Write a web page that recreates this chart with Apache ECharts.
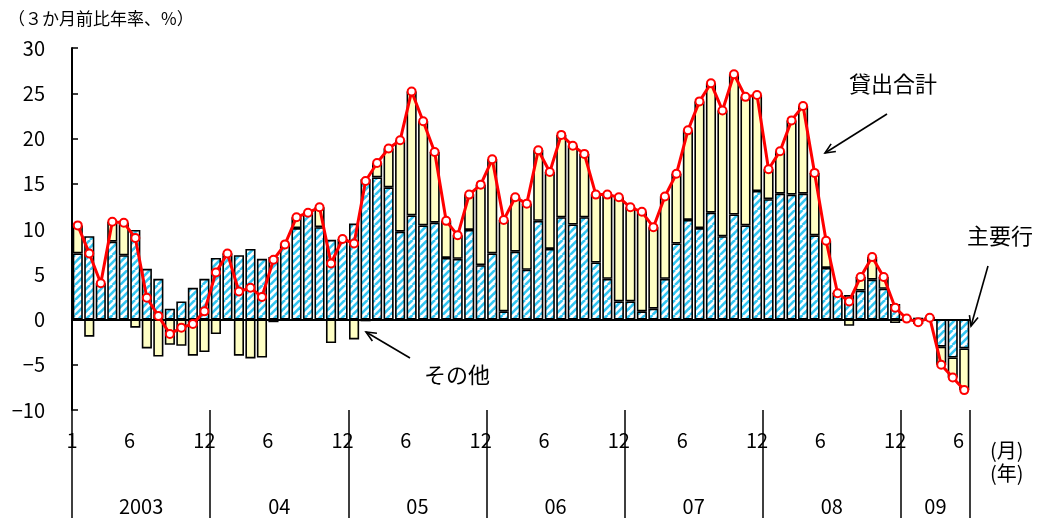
<!DOCTYPE html>
<html>
<head>
<meta charset="utf-8">
<script src="https://cdn.jsdelivr.net/npm/echarts@6/dist/echarts.min.js"></script>
<style>
html,body{margin:0;padding:0;background:#fff;}
#chart{width:1040px;height:518px;}
</style>
</head>
<body>
<div id="chart"></div>
<script>
// ---- data (3か月前比年率、%) : 2003/1 - 2009/6 ----
const startYear = 2003, startMonth = 1, monthCount = 78;
const categories = [];
for (let k = 0; k < monthCount; k++) {
  const y = startYear + Math.floor((startMonth - 1 + k) / 12);
  const m = (startMonth - 1 + k) % 12 + 1;
  categories.push(y + '/' + m);
}
// 主要行
const majorBanks = [
  7.3, 9.2, 3.8, 8.6, 7.1, 9.9, 5.6, 4.5, 1.2, 2.0, 3.5, 4.5,
  6.8, 7.1, 7.1, 7.8, 6.7, 6.9, 8.3, 10.1, 11.8, 10.2, 8.8, 8.7,
  10.6, 15.5, 15.7, 14.6, 9.7, 11.5, 10.4, 10.7, 6.8, 6.7, 9.9, 6.0,
  7.3, 0.9, 7.5, 5.5, 10.9, 7.8, 11.3, 10.5, 11.3, 6.3, 4.5, 2.0,
  2.0, 0.9, 1.2, 4.5, 8.4, 11.0, 10.1, 11.8, 9.2, 11.6, 10.4, 14.2,
  13.3, 13.9, 13.8, 13.9, 9.3, 5.7, 2.9, 2.7, 3.2, 4.4, 3.4, 1.7,
  0.1, 0.2, 0.2, -3.0, -4.2, -3.2
];
// その他
const others = [
  3.1, -1.9, 0.2, 2.2, 3.6, -0.9, -3.2, -4.1, -2.8, -2.9, -4.0, -3.6,
  -1.6, 0.2, -4.0, -4.3, -4.2, -0.3, 0.0, 1.2, 0.0, 2.2, -2.6, 0.2,
  -2.2, -0.2, 1.6, 4.3, 10.1, 13.7, 11.5, 7.8, 4.1, 2.6, 3.9, 8.9,
  10.4, 10.1, 6.0, 7.3, 7.8, 8.5, 9.1, 8.7, 7.0, 7.5, 9.3, 11.5,
  10.4, 11.0, 9.0, 9.1, 7.7, 9.9, 14.0, 14.3, 13.9, 15.5, 14.2, 10.6,
  3.3, 4.7, 8.2, 9.7, 6.9, 3.0, 0.0, -0.7, 1.5, 2.5, 1.3, -0.4,
  0.0, -0.5, 0.0, -2.0, -2.2, -4.6
];
// 貸出合計
const totalLoans = [
  10.4, 7.3, 4.0, 10.8, 10.7, 9.0, 2.4, 0.4, -1.6, -0.9, -0.5, 0.9,
  5.2, 7.3, 3.1, 3.5, 2.5, 6.6, 8.3, 11.3, 11.8, 12.4, 6.2, 8.9,
  8.4, 15.3, 17.3, 18.9, 19.8, 25.2, 21.9, 18.5, 10.9, 9.3, 13.8, 14.9,
  17.7, 11.0, 13.5, 12.8, 18.7, 16.3, 20.4, 19.2, 18.3, 13.8, 13.8, 13.5,
  12.4, 11.9, 10.2, 13.6, 16.1, 20.9, 24.1, 26.1, 23.1, 27.1, 24.6, 24.8,
  16.6, 18.6, 22.0, 23.6, 16.2, 8.7, 2.9, 2.0, 4.7, 6.9, 4.7, 1.3,
  0.1, -0.3, 0.2, -5.0, -6.4, -7.8
];
const yTicks = { min: -10, max: 30, step: 5 };
const yearLabels = ['2003', '04', '05', '06', '07', '08', '09'];
const monthTickLabels = { first: '1', mid: '6', last: '12' };

// label positions derived from category index
const monthLabelMap = {};
const yearSpan = {};
categories.forEach((c, k) => {
  const [y, m] = c.split('/').map(Number);
  if (k === 0) monthLabelMap[0] = monthTickLabels.first;
  if (m === 6) monthLabelMap[k] = monthTickLabels.mid;
  if (m === 12) monthLabelMap[k + 0.5] = monthTickLabels.last;
  if (!yearSpan[y]) yearSpan[y] = [k, k + 1]; else yearSpan[y][1] = k + 1;
});
const yearLabelMap = {};
Object.keys(yearSpan).forEach((y, j) => {
  const s = yearSpan[y];
  yearLabelMap[(s[0] + s[1]) / 2] = yearLabels[j];
});

// diagonal "/" hatch pattern for 主要行
function makeHatch() {
  const P = 7.5, S = 15;
  const cv = document.createElement('canvas');
  cv.width = S; cv.height = S;
  const ctx = cv.getContext('2d');
  ctx.fillStyle = '#ffffff';
  ctx.fillRect(0, 0, S, S);
  ctx.strokeStyle = '#33c6f2';
  ctx.lineWidth = 2.6;
  for (let k = -2; k <= 2; k++) {
    ctx.beginPath();
    ctx.moveTo(k * P, S);
    ctx.lineTo(k * P + S, 0);
    ctx.stroke();
  }
  return cv;
}

const FONT = '"Noto Sans CJK JP", "Noto Sans", sans-serif';
const chart = echarts.init(document.getElementById('chart'));

function arrow(x1, y1, x2, y2) {
  const a = Math.atan2(y2 - y1, x2 - x1), L = 11, w = 0.42;
  return [
    { type: 'line', shape: { x1, y1, x2, y2 }, style: { stroke: '#000', lineWidth: 1.6 }, z: 100 },
    { type: 'polyline', shape: { points: [
        [x2 - L * Math.cos(a - w), y2 - L * Math.sin(a - w)], [x2, y2],
        [x2 - L * Math.cos(a + w), y2 - L * Math.sin(a + w)]] },
      style: { stroke: '#000', lineWidth: 1.6, fill: null }, z: 100 }
  ];
}

const labelAxisBase = {
  type: 'value', min: 0, max: monthCount, position: 'bottom', interval: 0.5,
  axisLine: { show: false, onZero: false }, axisTick: { show: false }, splitLine: { show: false },
  gridIndex: 0
};

chart.setOption({
  animation: false,
  backgroundColor: '#fff',
  textStyle: { fontFamily: FONT },
  grid: { left: 72, right: 70, top: 48, bottom: 108, containLabel: false },
  xAxis: [
    {
      type: 'category', data: categories, position: 'bottom',
      axisLine: { show: false, onZero: false },
      axisTick: { show: true, inside: false, length: 108, interval: (i) => i % 12 === 0,
        lineStyle: { color: '#000', width: 1.5 } },
      axisLabel: { show: false },
      splitLine: { show: false }
    },
    Object.assign({}, labelAxisBase, {
      axisLabel: { show: true, margin: 20, color: '#000', fontSize: 20, fontFamily: FONT,
        showMinLabel: true, showMaxLabel: true,
        formatter: (v) => monthLabelMap[Math.round(v * 2) / 2] || '' }
    }),
    Object.assign({}, labelAxisBase, {
      axisLabel: { show: true, margin: 86, color: '#000', fontSize: 20, fontFamily: FONT,
        formatter: (v) => yearLabelMap[Math.round(v * 2) / 2] || '' }
    })
  ],
  yAxis: {
    type: 'value', min: yTicks.min, max: yTicks.max, interval: yTicks.step,
    axisLine: { show: true, onZero: false, lineStyle: { color: '#000', width: 2 } },
    axisTick: { show: true, inside: true, length: 6, lineStyle: { color: '#000', width: 1.5 } },
    splitLine: { show: false },
    axisLabel: { color: '#000', fontSize: 20, margin: 27, fontFamily: FONT,
      formatter: (v) => String(v).replace('-', '−') }
  },
  series: [
    {
      name: '主要行', type: 'bar', stack: 'loans', data: majorBanks,
      barCategoryGap: '12%', z: 2,
      itemStyle: {
        color: { image: makeHatch(), repeat: 'repeat' },
        borderColor: '#000', borderWidth: 1.6
      }
    },
    {
      name: 'その他', type: 'bar', stack: 'loans', data: others,
      barCategoryGap: '12%', z: 2,
      itemStyle: { color: '#ffffc4', borderColor: '#000', borderWidth: 1.6 },
      markLine: {
        silent: true, symbol: 'none', label: { show: false },
        lineStyle: { color: '#000', width: 2, type: 'solid' },
        data: [{ yAxis: 0 }]
      }
    },
    {
      name: '貸出合計', type: 'line', data: totalLoans, z: 5,
      lineStyle: { color: '#ff0000', width: 3 },
      symbol: 'circle', symbolSize: 8, showSymbol: true, showAllSymbol: true,
      itemStyle: { color: '#ffffff', borderColor: '#ff0000', borderWidth: 2 }
    }
  ],
  graphic: [
    { type: 'text', left: 8, top: 10, style: { text: '（３か月前比年率、%）', fontSize: 17, fill: '#000', fontFamily: FONT } },
    { type: 'text', left: 849, top: 73, style: { text: '貸出合計', fontSize: 22, fill: '#000', fontFamily: FONT } },
    { type: 'text', left: 967, top: 225, style: { text: '主要行', fontSize: 22, fill: '#000', fontFamily: FONT } },
    { type: 'text', left: 424, top: 364, style: { text: 'その他', fontSize: 22, fill: '#000', fontFamily: FONT } },
    { type: 'text', left: 990, top: 440, style: { text: '(月)', fontSize: 20, fill: '#000', fontFamily: FONT } },
    { type: 'text', left: 990, top: 463, style: { text: '(年)', fontSize: 20, fill: '#000', fontFamily: FONT } },
    ...arrow(887, 114, 825, 153),
    ...arrow(988, 266, 971, 326),
    ...arrow(410, 358, 366, 332)
  ]
});
</script>
</body>
</html>
